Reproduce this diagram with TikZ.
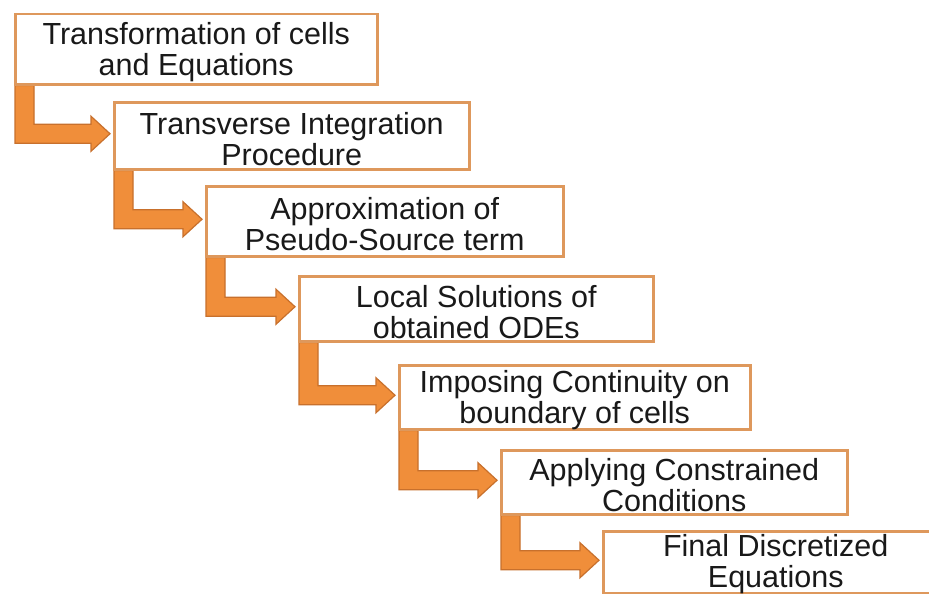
\documentclass[tikz,border=0pt]{standalone}
\usepackage{fontspec}
\setmainfont{Liberation Sans}
\usetikzlibrary{calc,backgrounds}
\definecolor{boxline}{RGB}{222,152,92}
\definecolor{arrfill}{RGB}{240,142,58}
\definecolor{arrline}{RGB}{200,112,44}
\tikzset{
  box/.style={draw=boxline, line width=2.5pt, fill=white, rectangle, anchor=north west, inner sep=0pt},
  txt/.style={align=center, font=\fontsize{30.5}{31}\selectfont, text=black!90, inner sep=0pt},
  larrow/.style={fill=arrfill, draw=arrline, line width=1.2pt, line join=miter}
}
\newcommand\Larrow[2]{%
  \path[larrow] let \p1=(#1.south west), \p2=(#2.west) in
    (\x1+1pt,\y1) -- (\x1+20pt,\y1) -- (\x1+20pt,\y2+11.5pt)
    -- (\x2-22pt,\y2+11.5pt) -- (\x2-22pt,\y2+19.5pt) -- (\x2-3pt,\y2+2pt)
    -- (\x2-22pt,\y2-15.5pt) -- (\x2-22pt,\y2-7.5pt) -- (\x1+1pt,\y2-7.5pt) -- cycle;%
}
\begin{document}
\begin{tikzpicture}[x=1pt,y=1pt]
\useasboundingbox (0,0) rectangle (929,-594);
\node[box, minimum width=362pt, minimum height=70pt] (b1) at (14,-13) {};
\node[box, minimum width=355pt, minimum height=67pt] (b2) at (113,-101) {};
\node[box, minimum width=357pt, minimum height=70pt] (b3) at (205,-185) {};
\node[box, minimum width=354pt, minimum height=65pt] (b4) at (298,-275) {};
\node[box, minimum width=351pt, minimum height=64pt] (b5) at (398,-364) {};
\node[box, minimum width=346pt, minimum height=64pt] (b6) at (500,-449) {};
\node[box, minimum width=345pt, minimum height=62pt] (b7) at (602,-530) {};
\node[txt] (t1) at ($(b1.center)+(0,-3)$) {Transformation of cells\\and Equations};
\node[txt] (t2) at ($(b2.center)+(0,-3)$) {Transverse Integration\\Procedure};
\node[txt] (t3) at ($(b3.center)+(0,-3)$) {Approximation of\\Pseudo-Source term};
\node[txt] (t4) at ($(b4.center)+(0,-3)$) {Local Solutions of\\obtained ODEs};
\node[txt] (t5) at ($(b5.center)+(0,-3)$) {Imposing Continuity on\\boundary of cells};
\node[txt] (t6) at ($(b6.center)+(0,-3)$) {Applying Constrained\\Conditions};
\node[txt] (t7) at ($(b7.center)+(0,-1.5)$) {Final Discretized\\Equations};
\begin{pgfonlayer}{background}
\fill[white] (0,0) rectangle (929,-594);
\Larrow{b1}{b2}
\Larrow{b2}{b3}
\Larrow{b3}{b4}
\Larrow{b4}{b5}
\Larrow{b5}{b6}
\Larrow{b6}{b7}
\end{pgfonlayer}
\end{tikzpicture}
\end{document}
